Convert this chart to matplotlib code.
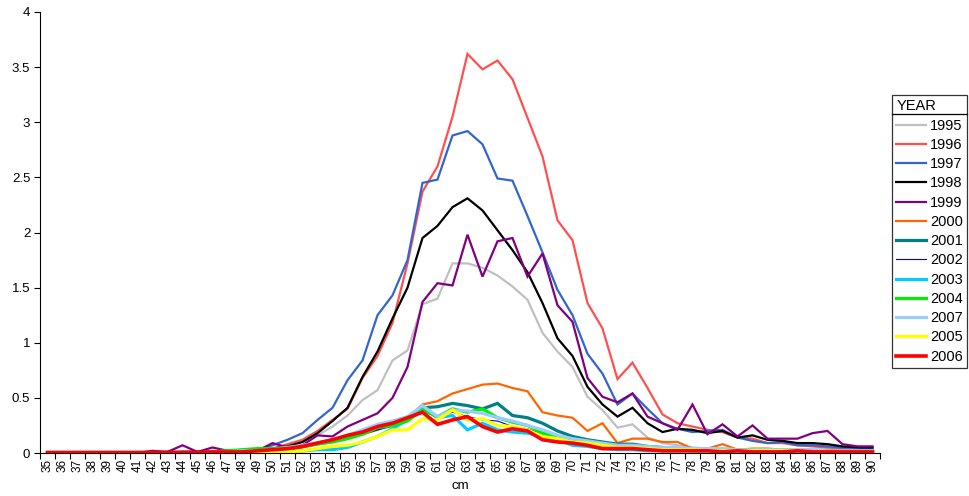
import matplotlib
matplotlib.use("Agg")
import matplotlib.pyplot as plt
from matplotlib.lines import Line2D

plt.rcParams['font.family'] = ['Liberation Sans', 'DejaVu Sans']

# categories (cm) - order as in the source sheet (74 before 73)
sizes = [str(v) for v in range(35, 73)] + ["74", "73"] + [str(v) for v in range(75, 91)]

y1995 = [0, 0, 0, 0, 0, 0, 0, 0, 0.01, 0.01,
         0.01, 0.01, 0.01, 0.02, 0.02,
         0.03, 0.06, 0.10, 0.16, 0.24,
         0.34, 0.48, 0.57, 0.84, 0.93,
         1.35, 1.40, 1.72, 1.72, 1.68,
         1.61, 1.51, 1.39, 1.09, 0.92,
         0.78, 0.51, 0.39, 0.23, 0.26,
         0.14, 0.09, 0.07, 0.05, 0.04,
         0.04, 0.03, 0.03, 0.03, 0.03,
         0.02, 0.02, 0.02, 0.02, 0.02, 0.02]
y1996 = [0, 0, 0, 0, 0, 0, 0, 0, 0.01, 0.01,
         0.01, 0.01, 0.01, 0.02, 0.02,
         0.04, 0.08, 0.12, 0.20, 0.30,
         0.40, 0.68, 0.88, 1.18, 1.72,
         2.37, 2.60, 3.05, 3.62, 3.48,
         3.56, 3.39, 3.04, 2.69, 2.11,
         1.93, 1.36, 1.13, 0.67, 0.82,
         0.59, 0.35, 0.27, 0.24, 0.21,
         0.19, 0.14, 0.13, 0.09, 0.09,
         0.07, 0.06, 0.05, 0.04, 0.03, 0.03]
y1997 = [0, 0, 0, 0, 0, 0, 0, 0, 0.01, 0.01,
         0.01, 0.01, 0.02, 0.02, 0.03,
         0.07, 0.12, 0.18, 0.30, 0.41,
         0.66, 0.84, 1.25, 1.43, 1.75,
         2.45, 2.48, 2.88, 2.92, 2.80,
         2.49, 2.47, 2.15, 1.82, 1.48,
         1.25, 0.90, 0.72, 0.44, 0.54,
         0.40, 0.27, 0.22, 0.19, 0.20,
         0.21, 0.14, 0.11, 0.09, 0.10,
         0.07, 0.07, 0.06, 0.05, 0.05, 0.04]
y1998 = [0, 0, 0, 0, 0, 0, 0, 0, 0, 0.01,
         0.01, 0.01, 0.01, 0.02, 0.02,
         0.04, 0.06, 0.10, 0.18, 0.29,
         0.41, 0.69, 0.92, 1.22, 1.50,
         1.95, 2.06, 2.23, 2.31, 2.20,
         2.02, 1.84, 1.64, 1.36, 1.04,
         0.88, 0.60, 0.44, 0.33, 0.41,
         0.27, 0.19, 0.22, 0.21, 0.18,
         0.20, 0.14, 0.16, 0.12, 0.11,
         0.09, 0.09, 0.08, 0.06, 0.05, 0.05]
y1999 = [0, 0, 0, 0, 0, 0, 0, 0.02, 0.01, 0.07,
         0.01, 0.05, 0.02, 0.02, 0.02,
         0.09, 0.05, 0.07, 0.16, 0.15,
         0.24, 0.30, 0.36, 0.50, 0.78,
         1.37, 1.54, 1.52, 1.98, 1.60,
         1.92, 1.95, 1.60, 1.81, 1.34,
         1.19, 0.68, 0.51, 0.46, 0.54,
         0.33, 0.27, 0.21, 0.44, 0.17,
         0.26, 0.15, 0.25, 0.13, 0.13,
         0.13, 0.18, 0.20, 0.08, 0.06, 0.06]
y2000 = [0, 0, 0, 0, 0, 0, 0, 0, 0, 0,
         0, 0.01, 0.01, 0.03, 0.02,
         0.02, 0.03, 0.05, 0.08, 0.10,
         0.13, 0.17, 0.21, 0.26, 0.32,
         0.44, 0.47, 0.54, 0.58, 0.62,
         0.63, 0.59, 0.56, 0.37, 0.34,
         0.32, 0.20, 0.27, 0.09, 0.13,
         0.13, 0.10, 0.10, 0.04, 0.04,
         0.08, 0.03, 0.04, 0.04, 0.03,
         0.03, 0.03, 0.03, 0.02, 0.02, 0.02]
y2001 = [0, 0, 0, 0, 0, 0, 0, 0, 0, 0,
         0, 0.01, 0.02, 0.02, 0.03,
         0.03, 0.04, 0.06, 0.09, 0.12,
         0.15, 0.19, 0.22, 0.25, 0.30,
         0.41, 0.42, 0.45, 0.43, 0.40,
         0.45, 0.34, 0.32, 0.27, 0.20,
         0.15, 0.12, 0.10, 0.08, 0.08,
         0.06, 0.05, 0.04, 0.04, 0.03,
         0.03, 0.03, 0.03, 0.02, 0.02,
         0.02, 0.02, 0.02, 0.02, 0.02, 0.02]
y2002 = [0, 0, 0, 0, 0, 0, 0, 0, 0, 0,
         0, 0.01, 0.01, 0.02, 0.02,
         0.02, 0.04, 0.06, 0.08, 0.10,
         0.13, 0.17, 0.21, 0.25, 0.30,
         0.38, 0.33, 0.37, 0.33, 0.30,
         0.29, 0.24, 0.22, 0.17, 0.14,
         0.12, 0.09, 0.07, 0.05, 0.05,
         0.04, 0.04, 0.03, 0.03, 0.03,
         0.03, 0.02, 0.02, 0.02, 0.02,
         0.02, 0.02, 0.02, 0.01, 0.01, 0.01]
y2003 = [0, 0, 0, 0, 0, 0, 0, 0, 0, 0,
         0, 0, 0.01, 0.01, 0.01,
         0.01, 0.01, 0.02, 0.03, 0.03,
         0.05, 0.10, 0.15, 0.22, 0.30,
         0.41, 0.32, 0.34, 0.21, 0.27,
         0.21, 0.19, 0.18, 0.15, 0.12,
         0.07, 0.06, 0.04, 0.03, 0.03,
         0.02, 0.02, 0.02, 0.02, 0.02,
         0.02, 0.02, 0.01, 0.01, 0.01,
         0.01, 0.01, 0.01, 0.01, 0.01, 0.01]
y2004 = [0, 0, 0, 0, 0, 0, 0, 0, 0, 0,
         0, 0.01, 0.02, 0.03, 0.04,
         0.04, 0.05, 0.06, 0.08, 0.10,
         0.13, 0.17, 0.23, 0.25, 0.29,
         0.39, 0.33, 0.40, 0.37, 0.40,
         0.32, 0.28, 0.25, 0.18, 0.15,
         0.13, 0.10, 0.08, 0.06, 0.06,
         0.04, 0.03, 0.03, 0.02, 0.02,
         0.02, 0.02, 0.02, 0.02, 0.02,
         0.02, 0.02, 0.01, 0.01, 0.01, 0.01]
y2007 = [0, 0, 0, 0, 0, 0, 0, 0, 0, 0,
         0, 0.01, 0.01, 0.02, 0.02,
         0.03, 0.05, 0.07, 0.09, 0.12,
         0.16, 0.21, 0.26, 0.29, 0.33,
         0.43, 0.33, 0.39, 0.38, 0.36,
         0.32, 0.29, 0.25, 0.21, 0.16,
         0.13, 0.11, 0.09, 0.07, 0.07,
         0.06, 0.05, 0.05, 0.04, 0.04,
         0.04, 0.03, 0.03, 0.03, 0.03,
         0.03, 0.03, 0.02, 0.02, 0.02, 0.02]
y2005 = [0, 0, 0, 0, 0, 0, 0, 0, 0, 0,
         0, 0, 0.01, 0.01, 0.01,
         0.01, 0.01, 0.02, 0.04, 0.06,
         0.07, 0.10, 0.15, 0.21, 0.21,
         0.31, 0.30, 0.39, 0.30, 0.31,
         0.25, 0.24, 0.21, 0.15, 0.13,
         0.10, 0.09, 0.07, 0.05, 0.05,
         0.04, 0.03, 0.03, 0.03, 0.02,
         0.02, 0.02, 0.02, 0.02, 0.02,
         0.02, 0.01, 0.01, 0.01, 0.01, 0.01]
y2006 = [0.005, 0.005, 0.005, 0.005, 0.005, 0.005, 0.005, 0.005, 0.005, 0.005,
         0.005, 0.01, 0.01, 0.01, 0.02,
         0.03, 0.04, 0.06, 0.09, 0.12,
         0.16, 0.19, 0.24, 0.27, 0.32,
         0.37, 0.26, 0.30, 0.33, 0.24,
         0.19, 0.22, 0.20, 0.12, 0.10,
         0.09, 0.07, 0.04, 0.04, 0.04,
         0.03, 0.02, 0.02, 0.02, 0.02,
         0.01, 0.02, 0.01, 0.01, 0.01,
         0.02, 0.01, 0.01, 0.01, 0.01, 0.01]

years = ["1995", "1996", "1997", "1998", "1999", "2000", "2001",
         "2002", "2003", "2004", "2007", "2005", "2006"]
series = [y1995, y1996, y1997, y1998, y1999, y2000, y2001,
          y2002, y2003, y2004, y2007, y2005, y2006]
colors = ["#C0C0C0", "#FF5050", "#3366CC", "#000000", "#800080", "#FF6600", "#008080",
          "#0000CC", "#00CCFF", "#00EE00", "#99CCFF", "#FFFF00", "#FF0000"]
widths = [1.6, 1.6, 1.6, 1.6, 1.6, 1.6, 2.3,
          0.8, 2.3, 2.3, 2.3, 2.3, 2.6]

fig = plt.figure(figsize=(9.7, 4.96), dpi=100)
ax = fig.add_axes([40 / 970, 43 / 496, 840 / 970, 441 / 496])

x = list(range(len(sizes)))
for yr, vals, c, lw in zip(years, series, colors, widths):
    ax.plot(x, vals, color=c, lw=lw, label=yr, solid_joinstyle='miter')

ax.set_xlim(-0.5, len(sizes) - 0.5)
ax.set_ylim(0, 4)

# excel-like axes: only left/bottom, ticks between categories
ax.spines['top'].set_visible(False)
ax.spines['right'].set_visible(False)
ax.spines['left'].set_linewidth(0.8)
ax.spines['bottom'].set_linewidth(0.8)

ax.set_xticks(x)
ax.set_xticklabels(sizes, rotation=90, fontsize=8.5)
ax.tick_params(axis='x', which='major', length=0, pad=4)
ax.set_xticks([i - 0.5 for i in range(len(sizes) + 1)], minor=True)
ax.tick_params(axis='x', which='minor', length=4, width=0.8, direction='out')

ax.set_yticks([0, 0.5, 1, 1.5, 2, 2.5, 3, 3.5, 4])
ax.set_yticklabels(["0", "0.5", "1", "1.5", "2", "2.5", "3", "3.5", "4"], fontsize=9.5)
ax.tick_params(axis='y', length=4, width=0.8, direction='out', pad=3)

ax.set_xlabel("cm", fontsize=9.5, labelpad=6)

leg = ax.legend(loc='upper left', bbox_to_anchor=(892 / 970, 1 - 95 / 496),
                bbox_transform=fig.transFigure, borderaxespad=0,
                title="YEAR", title_fontsize=10.5, fontsize=10.5, alignment='left',
                frameon=True, fancybox=False, edgecolor='black',
                handlelength=2.05, handletextpad=0.25, labelspacing=0.36,
                borderpad=0.3)
leg.get_frame().set_linewidth(0.9)

# line under the legend title, as wide as the legend frame
fig.canvas.draw()
bb = leg.get_frame().get_window_extent().transformed(fig.transFigure.inverted())
fig.add_artist(Line2D([bb.x0, bb.x1], [1 - 114 / 496, 1 - 114 / 496],
                      transform=fig.transFigure, color='black', lw=0.9))

plt.savefig("out.png", dpi=100)
